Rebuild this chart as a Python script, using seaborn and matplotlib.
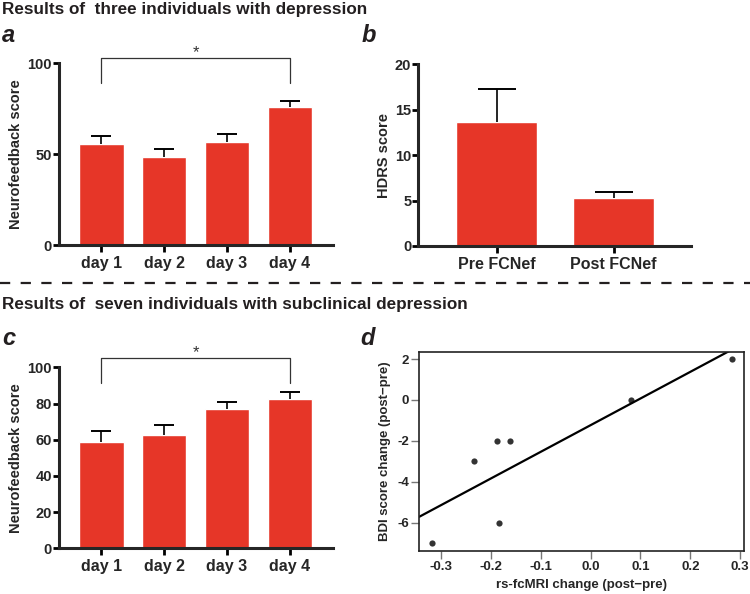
import matplotlib
matplotlib.use("Agg")
import matplotlib.pyplot as plt
from matplotlib.lines import Line2D
import numpy as np
import pandas as pd
import seaborn as sns

# ---- data ----
days = ['day 1', 'day 2', 'day 3', 'day 4']
a_mean = [55.5, 48.5, 56.8, 75.8]
a_err = [4.2, 4.4, 4.2, 3.3]

b_groups = ['Pre FCNef', 'Post FCNef']
b_mean = [13.6, 5.3]
b_err = [3.7, 0.65]

c_mean = [58.9, 62.4, 77.0, 82.7]
c_err = [5.7, 5.7, 4.0, 3.5]

d_fc = [-0.318, -0.233, -0.188, -0.183, -0.162, 0.081, 0.284]
d_bdi = [-7, -3, -2, -6, -2, 0, 2]

RED = '#e63628'

sns.set_theme(style='ticks')
plt.rcParams['font.family'] = ['Liberation Sans', 'DejaVu Sans']
plt.rcParams['font.weight'] = 'bold'
plt.rcParams['axes.labelweight'] = 'bold'
plt.rcParams['axes.unicode_minus'] = False

fig = plt.figure(figsize=(7.5, 5.94), dpi=100)


def bar_panel(ax, cats, means, errs, ylim, yticks, ylabel, capsize, width):
    df = pd.DataFrame({'cat': cats, 'val': means})
    sns.barplot(data=df, x='cat', y='val', color=RED, saturation=1,
                width=width, errorbar=None, ax=ax)
    # upper-only error bars (stem from the bar top, cap at the top)
    xs = np.arange(len(cats))
    tops = np.array(means) + np.array(errs)
    ax.vlines(xs, means, tops, color='black', lw=1.2, zorder=3)
    ax.errorbar(xs, tops, yerr=0, fmt='none', ecolor='black', elinewidth=0,
                capsize=capsize, capthick=1.2, zorder=3)
    ax.set_ylim(ylim)
    ax.set_yticks(yticks)
    ax.set_xlabel('')
    ax.set_ylabel(ylabel, fontsize=10.5, fontweight='bold', labelpad=3)
    for s in ['top', 'right']:
        ax.spines[s].set_visible(False)
    for s in ['left', 'bottom']:
        ax.spines[s].set_linewidth(2.2)
    ax.tick_params(axis='both', width=2.0, direction='out', color='black')
    ax.tick_params(axis='x', labelsize=11.5, length=5, pad=3)
    ax.tick_params(axis='y', labelsize=10.5, length=4, pad=1)
    for lab in ax.get_xticklabels() + ax.get_yticklabels():
        lab.set_fontweight('bold')


def bracket(ax, x0, x1, ytop, ydrop):
    ax.plot([x0, x0, x1, x1], [ydrop, ytop, ytop, ydrop], color='#333333',
            lw=0.9, clip_on=False)
    ax.text((x0 + x1) / 2, ytop + 0.5, '*', ha='center', va='baseline',
            fontsize=12, fontweight='normal', color='#333333', clip_on=False)


# panel a
ax_a = fig.add_axes([0.0787, 0.5875, 0.365, 0.3064])
bar_panel(ax_a, days, a_mean, a_err, (0, 100), [0, 50, 100],
          'Neurofeedback score', 7.5, 0.71)
ax_a.set_xlim(-0.67, 3.68)
bracket(ax_a, 0, 3, 103, 89)

# panel b
ax_b = fig.add_axes([0.5577, 0.5859, 0.3636, 0.3058])
bar_panel(ax_b, b_groups, b_mean, b_err, (0, 20), [0, 5, 10, 15, 20],
          'HDRS score', 14, 0.69)
ax_b.set_xlim(-0.67, 1.66)

# panel c
ax_c = fig.add_axes([0.0787, 0.0769, 0.365, 0.3047])
bar_panel(ax_c, days, c_mean, c_err, (0, 100), [0, 20, 40, 60, 80, 100],
          'Neurofeedback score', 7.5, 0.71)
ax_c.set_xlim(-0.67, 3.68)
bracket(ax_c, 0, 3, 105, 91.5)

# panel d
ax_d = fig.add_axes([0.5591, 0.0724, 0.4333, 0.3355])
ax_d.set_xlim(-0.343, 0.308)
ax_d.set_ylim(-7.38, 2.36)
sns.regplot(x=d_fc, y=d_bdi, ci=None, truncate=False, ax=ax_d,
            color='black', scatter_kws={'s': 20, 'linewidths': 0},
            line_kws={'lw': 1.6})
ax_d.set_xlim(-0.343, 0.308)
ax_d.set_ylim(-7.38, 2.36)
ax_d.set_xticks([-0.3, -0.2, -0.1, 0.0, 0.1, 0.2, 0.3])
ax_d.set_yticks([2, 0, -2, -4, -6])
ax_d.set_xlabel('rs-fcMRI change (post\u2212pre)', fontsize=9.5,
                fontweight='bold')
ax_d.set_ylabel('BDI score change (post\u2212pre)', fontsize=9.5,
                fontweight='bold')
for s in ax_d.spines.values():
    s.set_linewidth(1.2)
    s.set_color('#222222')
ax_d.tick_params(axis='both', length=5.5, width=1.0, color='#777777',
                 labelsize=9.5, pad=2)
for lab in ax_d.get_xticklabels() + ax_d.get_yticklabels():
    lab.set_fontweight('bold')

# titles, panel letters, separator
fig.text(0.002, 0.996, 'Results of  three individuals with depression',
         fontsize=12.3, fontweight='bold', color='#231f20', va='top')
fig.text(0.002, 0.500, 'Results of  seven individuals with subclinical depression',
         fontsize=12.3, fontweight='bold', color='#231f20', va='top')
for x, y, s in [(0.003, 0.94, 'a'), (0.482, 0.94, 'b'),
                (0.003, 0.43, 'c'), (0.481, 0.43, 'd')]:
    fig.text(x, y, s, fontsize=17, fontweight='bold', style='italic',
             va='center', color='#231f20')
fig.add_artist(Line2D([0, 1], [1 - 283 / 594, 1 - 283 / 594],
                      transform=fig.transFigure, color='#231f20', lw=1.6,
                      dashes=(4.6, 4.7)))

fig.savefig('out.png', dpi=100)
